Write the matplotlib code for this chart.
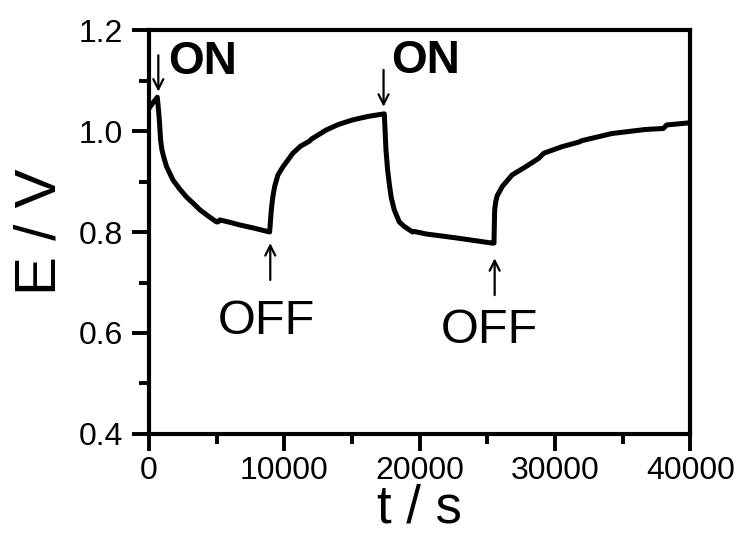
import matplotlib as mpl
import matplotlib.pyplot as plt
from matplotlib.ticker import MultipleLocator

# 字体
mpl.rcParams.update({
    'font.family': ['Liberation Sans', 'DejaVu Sans'],
    'font.size': 22,
    'axes.unicode_minus': False,
})

# 数据
t_on1 = [0, 300, 611, 740, 810, 862, 960, 1100, 1304, 1768, 2300, 2777, 3300, 3757, 4400, 4987, 5100, 5230,
         6000, 6700, 7700, 8913]
E_on1 = [1.045, 1.056, 1.067, 1.030, 1.002, 0.980, 0.962, 0.947, 0.929, 0.903, 0.884, 0.869, 0.856, 0.844, 0.831,
         0.820, 0.820, 0.824, 0.819, 0.814, 0.808, 0.800]

t_off1 = [8913, 9036, 9150, 9281, 9527, 9895, 10630, 11200, 11860, 12000, 13090, 14000, 15050, 16200, 17385]
E_off1 = [0.800, 0.844, 0.870, 0.890, 0.913, 0.929, 0.956, 0.970, 0.980, 0.984, 1.002, 1.013, 1.022, 1.029, 1.034]

t_on2 = [17385, 17510, 17630, 17750, 17900, 18120, 18490, 18860, 19470, 19600, 20500, 22780, 25360]
E_on2 = [1.034, 0.962, 0.923, 0.896, 0.868, 0.844, 0.820, 0.811, 0.800, 0.801, 0.796, 0.788, 0.778]

t_off2 = [25360, 25490, 25540, 25620, 25730, 26100, 26830, 27820, 28800, 29170, 30520, 31750, 32000,
          34200, 36660, 38000, 38250, 39850, 40000]
E_off2 = [0.778, 0.778, 0.844, 0.860, 0.872, 0.890, 0.913, 0.929, 0.946, 0.956, 0.969, 0.978, 0.981,
          0.995, 1.003, 1.005, 1.012, 1.016, 1.016]

t = t_on1 + t_off1[1:] + t_on2[1:] + t_off2[1:]
E = E_on1 + E_off1[1:] + E_on2[1:] + E_off2[1:]

# 标注: (label, bold, text x, text y, arrow x, arrow tail y, arrow tip y)
labels = ['ON', 'OFF', 'ON', 'OFF']
label_bold = [True, False, True, False]
label_t = [1400, 5105, 17880, 21560]
label_E = [1.113, 0.599, 1.115, 0.580]
arrow_t = [687, 8960, 17330, 25540]
arrow_tail = [1.150, 0.705, 1.121, 0.675]
arrow_tip = [1.078, 0.778, 1.048, 0.748]

fig = plt.figure(figsize=(7.37, 5.35), dpi=100)
ax = fig.add_axes([0.2022, 0.1888, 0.7345, 0.7551])

ax.plot(t, E, color='black', lw=3.6, solid_joinstyle='round')

for lab, bold, tx, ty, ax_t, tail, tip in zip(labels, label_bold, label_t, label_E,
                                               arrow_t, arrow_tail, arrow_tip):
    ax.annotate('', xy=(ax_t, tip), xytext=(ax_t, tail),
                arrowprops=dict(arrowstyle='->', lw=1.6, color='black',
                                shrinkA=0, shrinkB=0, mutation_scale=18))
    if bold:
        ax.text(tx, ty, lab, fontsize=33, fontweight='bold', ha='left', va='baseline')
    else:
        ax.text(tx, ty, lab, fontsize=35, ha='left', va='baseline')

ax.set_xlim(0, 40000)
ax.set_ylim(0.4, 1.2)
ax.xaxis.set_major_locator(MultipleLocator(10000))
ax.xaxis.set_minor_locator(MultipleLocator(5000))
ax.yaxis.set_major_locator(MultipleLocator(0.2))
ax.yaxis.set_minor_locator(MultipleLocator(0.1))
ax.yaxis.set_major_formatter(mpl.ticker.FormatStrFormatter('%.1f'))

for s in ax.spines.values():
    s.set_linewidth(3)
ax.tick_params(which='major', direction='out', length=12, width=2.8, labelsize=23)
ax.tick_params(which='minor', direction='out', length=7, width=2.8)
ax.tick_params(axis='y', pad=7)
ax.tick_params(axis='x', pad=4)

ax.set_xlabel('t / s', fontsize=38, labelpad=-2)
ax.set_ylabel('E / V', fontsize=42, labelpad=8)

plt.savefig('out.png', dpi=100)
